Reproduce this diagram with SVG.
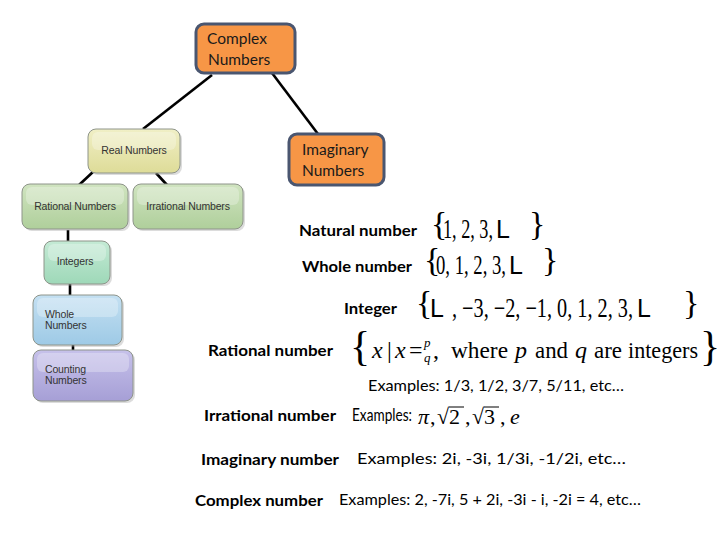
<svg xmlns="http://www.w3.org/2000/svg" width="720" height="540" viewBox="0 0 720 540">
<defs>
<style>
.lbl{font-family:Lato,"Liberation Sans",sans-serif;font-weight:bold;font-size:15.5px;fill:#000}
.ex{font-family:Lato,"Liberation Sans",sans-serif;font-size:16px;fill:#000}
.ser{font-family:"Liberation Serif","Times New Roman",serif;fill:#000}
.it{font-style:italic}
.sl{font-family:"Liberation Sans",Arial,sans-serif;fill:#000}
.orange{fill:#F79646;stroke:#4A5670;stroke-width:3}
.otx{font-family:Lato,"Liberation Sans",sans-serif;font-size:15.5px;fill:#1a1a1a}
.box{stroke:#8E948A;stroke-width:1}
.btx{font-family:"Liberation Sans",Arial,sans-serif;font-size:10.5px;fill:#333;letter-spacing:-0.15px}
.gloss{fill:#fff;opacity:0.28}
.shadow{fill:#9a9a9a;opacity:0.35}
.conn{stroke:#000;stroke-width:2.6;fill:none}
</style>
<linearGradient id="gReal" x1="0" y1="0" x2="0" y2="1"><stop offset="0" stop-color="#F0EFC6"/><stop offset="1" stop-color="#DEDC98"/></linearGradient>
<linearGradient id="gRat" x1="0" y1="0" x2="0" y2="1"><stop offset="0" stop-color="#D0E4C0"/><stop offset="1" stop-color="#AFCF9B"/></linearGradient>
<linearGradient id="gInt" x1="0" y1="0" x2="0" y2="1"><stop offset="0" stop-color="#C4EAD5"/><stop offset="1" stop-color="#9ED8B8"/></linearGradient>
<linearGradient id="gWho" x1="0" y1="0" x2="0" y2="1"><stop offset="0" stop-color="#C4E0F2"/><stop offset="1" stop-color="#9ECAE6"/></linearGradient>
<linearGradient id="gCnt" x1="0" y1="0" x2="0" y2="1"><stop offset="0" stop-color="#C6C1EA"/><stop offset="1" stop-color="#A69FD6"/></linearGradient>
</defs>
<rect width="720" height="540" fill="#fff"/>

<g id="connectors">
<line class="conn" x1="212" y1="75" x2="143" y2="129"/>
<line class="conn" x1="272" y1="73" x2="318" y2="134"/>
<line class="conn" x1="94" y1="171" x2="79" y2="185" stroke-width="2"/>
<line class="conn" x1="156" y1="173" x2="167" y2="185" stroke-width="2"/>
<line class="conn" x1="68" y1="230" x2="68" y2="241" stroke-width="1.6"/>
<line class="conn" x1="70" y1="284" x2="70" y2="295" stroke-width="2.4"/>
<line class="conn" x1="73" y1="345" x2="73" y2="351" stroke-width="1.6"/>
</g>

<g id="complex-numbers">
<rect class="orange" x="196" y="24" width="99" height="49" rx="8"/>
<text class="otx" x="207" y="44">Complex</text>
<text class="otx" x="208" y="65">Numbers</text>
</g>
<g id="imaginary-numbers">
<rect class="orange" x="289" y="134" width="95" height="51" rx="8"/>
<text class="otx" x="302" y="155">Imaginary</text>
<text class="otx" x="302" y="176">Numbers</text>
</g>

<g id="real-numbers">
<rect class="shadow" x="90" y="131" width="92" height="44" rx="8"/>
<rect class="box" x="88" y="129" width="92" height="44" rx="8" fill="url(#gReal)"/>
<rect class="gloss" x="92" y="132" width="84" height="18" rx="6"/>
<text class="btx" x="134" y="154" text-anchor="middle">Real Numbers</text>
</g>
<g id="rational-numbers">
<rect class="shadow" x="24" y="186" width="106" height="45" rx="8"/>
<rect class="box" x="22" y="184" width="106" height="45" rx="8" fill="url(#gRat)"/>
<rect class="gloss" x="26" y="187" width="98" height="18" rx="6"/>
<text class="btx" x="75" y="210" text-anchor="middle">Rational Numbers</text>
</g>
<g id="irrational-numbers">
<rect class="shadow" x="135" y="186" width="110" height="45" rx="8"/>
<rect class="box" x="133" y="184" width="110" height="45" rx="8" fill="url(#gRat)"/>
<rect class="gloss" x="137" y="187" width="102" height="18" rx="6"/>
<text class="btx" x="188" y="210" text-anchor="middle">Irrational Numbers</text>
</g>
<g id="integers">
<rect class="shadow" x="46" y="243" width="66" height="43" rx="8"/>
<rect class="box" x="44" y="241" width="66" height="43" rx="8" fill="url(#gInt)"/>
<rect class="gloss" x="48" y="244" width="58" height="17" rx="6"/>
<text class="btx" x="75" y="265" text-anchor="middle">Integers</text>
</g>
<g id="whole-numbers">
<rect class="shadow" x="35" y="297" width="89" height="50" rx="8"/>
<rect class="box" x="33" y="295" width="89" height="50" rx="8" fill="url(#gWho)"/>
<rect class="gloss" x="37" y="298" width="81" height="19" rx="6"/>
<text class="btx" x="45" y="318">Whole</text>
<text class="btx" x="45" y="329">Numbers</text>
</g>
<g id="counting-numbers">
<rect class="shadow" x="35" y="352" width="100" height="51" rx="8"/>
<rect class="box" x="33" y="350" width="100" height="51" rx="8" fill="url(#gCnt)"/>
<rect class="gloss" x="37" y="353" width="92" height="19" rx="6"/>
<text class="btx" x="45" y="373">Counting</text>
<text class="btx" x="45" y="384">Numbers</text>
</g>

<g id="natural-row">
<text class="lbl" x="299" y="236" textLength="118" lengthAdjust="spacingAndGlyphs">Natural number</text>
<text class="ser" x="431" y="235" font-size="34">{</text>
<text class="ser" x="443" y="238" font-size="27" textLength="50" lengthAdjust="spacingAndGlyphs">1, 2, 3,</text>
<text class="sl" x="496" y="238" font-size="25">L</text>
<text class="ser" x="529" y="235" font-size="34">}</text>
</g>
<g id="whole-row">
<text class="lbl" x="302" y="272" textLength="110" lengthAdjust="spacingAndGlyphs">Whole number</text>
<text class="ser" x="424" y="271" font-size="34">{</text>
<text class="ser" x="436" y="274" font-size="27" textLength="70" lengthAdjust="spacingAndGlyphs">0, 1, 2, 3,</text>
<text class="sl" x="509" y="274" font-size="25">L</text>
<text class="ser" x="542" y="271" font-size="34">}</text>
</g>
<g id="integer-row">
<text class="lbl" x="344" y="314" textLength="53" lengthAdjust="spacingAndGlyphs">Integer</text>
<text class="ser" x="416" y="314" font-size="34">{</text>
<text class="sl" x="430" y="317" font-size="25">L</text>
<text class="ser" x="452" y="317" font-size="27" textLength="181" lengthAdjust="spacingAndGlyphs">, −3, −2, −1, 0, 1, 2, 3,</text>
<text class="sl" x="637" y="317" font-size="25">L</text>
<text class="ser" x="683" y="314" font-size="34">}</text>
</g>
<g id="rational-row">
<text class="lbl" x="208" y="356" textLength="125" lengthAdjust="spacingAndGlyphs">Rational number</text>
<text class="ser" x="350" y="360" font-size="42">{</text>
<text class="ser it" x="372" y="358" font-size="24">x</text>
<text class="ser" x="387" y="358" font-size="24">|</text>
<text class="ser it" x="395" y="358" font-size="24">x</text>
<text class="ser" x="409" y="358" font-size="24">=</text>
<text class="ser it" x="424" y="347" font-size="13">p</text>
<text class="ser it" x="424" y="362" font-size="13">q</text>
<text class="ser" x="433" y="358" font-size="24">,</text>
<text class="ser" x="451" y="358" font-size="24" textLength="57" lengthAdjust="spacingAndGlyphs">where</text>
<text class="ser it" x="515" y="358" font-size="24">p</text>
<text class="ser" x="535" y="358" font-size="24" textLength="33" lengthAdjust="spacingAndGlyphs">and</text>
<text class="ser it" x="575" y="358" font-size="24">q</text>
<text class="ser" x="594" y="358" font-size="24" textLength="28" lengthAdjust="spacingAndGlyphs">are</text>
<text class="ser" x="628" y="358" font-size="24" textLength="70" lengthAdjust="spacingAndGlyphs">integers</text>
<text class="ser" x="700" y="360" font-size="42">}</text>
<text class="ex" x="368" y="391" textLength="256" lengthAdjust="spacingAndGlyphs">Examples: 1/3, 1/2, 3/7, 5/11, etc…</text>
</g>
<g id="irrational-row">
<text class="lbl" x="204" y="421" textLength="132" lengthAdjust="spacingAndGlyphs">Irrational number</text>
<text class="ex" x="352" y="421" style="font-size:17.5px" textLength="60" lengthAdjust="spacingAndGlyphs">Examples:</text>
<text class="ser it" x="418" y="424" font-size="22">π</text>
<text class="ser" x="430" y="424" font-size="22">,</text>
<text class="ser" x="437" y="424" font-size="22">√2</text>
<line x1="449" y1="407" x2="464" y2="407" stroke="#000" stroke-width="1"/>
<text class="ser" x="465" y="424" font-size="22">,</text>
<text class="ser" x="472" y="424" font-size="22">√3</text>
<line x1="484" y1="407" x2="499" y2="407" stroke="#000" stroke-width="1"/>
<text class="ser" x="500" y="424" font-size="22">,</text>
<text class="ser it" x="510" y="424" font-size="22">e</text>
</g>
<g id="imaginary-row">
<text class="lbl" x="201" y="465" textLength="138" lengthAdjust="spacingAndGlyphs">Imaginary number</text>
<text class="ex" x="357" y="464" textLength="269" lengthAdjust="spacingAndGlyphs">Examples: 2i, -3i, 1/3i, -1/2i, etc…</text>
</g>
<g id="complex-row">
<text class="lbl" x="195" y="506" textLength="128" lengthAdjust="spacingAndGlyphs">Complex number</text>
<text class="ex" x="339" y="505" textLength="302" lengthAdjust="spacingAndGlyphs">Examples: 2, -7i, 5 + 2i, -3i - i, -2i = 4, etc…</text>
</g>
</svg>
